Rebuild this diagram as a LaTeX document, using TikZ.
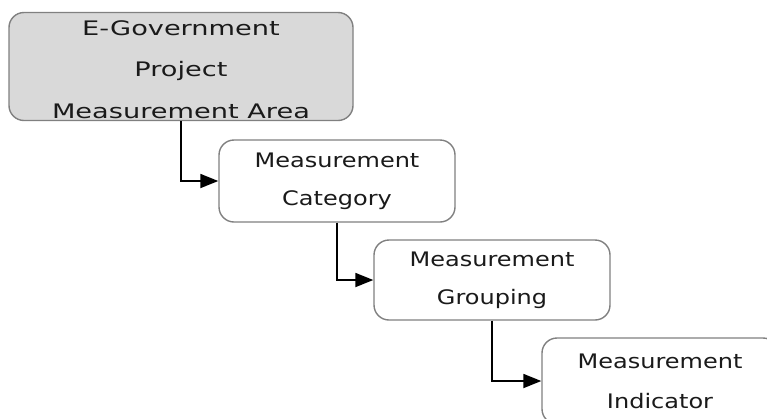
\documentclass[tikz,border=0pt]{standalone}
\usepackage{fontspec}
\setmainfont{DejaVu Sans}
\newfontfamily\boxfont[FakeStretch=1.2]{DejaVu Sans}
\newfontfamily\topfont[FakeStretch=1.36]{DejaVu Sans}
\usetikzlibrary{arrows.meta}
\definecolor{boxgray}{HTML}{D9D9D9}
\definecolor{edgegray}{HTML}{808080}
\definecolor{txtgray}{HTML}{1A1A1A}
\tikzset{
  block/.style={draw=edgegray, line width=1.4pt, rounded corners=15pt,
    fill=white, align=center, text=txtgray, inner sep=0pt,
    font=\boxfont\fontsize{20}{38}\selectfont},
  arr/.style={line width=1.8pt, -{Triangle[length=18pt, width=14pt]}}
}
\begin{document}
\begin{tikzpicture}[x=1pt, y=-1pt]
  \useasboundingbox (0,0) rectangle (767,418);

  % Boxes
  \node[block, fill=boxgray, minimum width=344pt, minimum height=108pt,
    font=\topfont\fontsize{20}{41.5}\selectfont]
    (area) at (181,66.5) {\rule{0pt}{21pt}E-Government\\Project\\Measurement Area};
  \node[block, minimum width=236pt, minimum height=82pt]
    (category) at (337,181) {Measurement\\Category};
  \node[block, minimum width=236pt, minimum height=80pt]
    (grouping) at (492,280) {Measurement\\Grouping};
  \node[block, minimum width=236pt, minimum height=86pt, font=\boxfont\fontsize{20}{40}\selectfont]
    (indicator) at (660,381) {Measurement\\Indicator};

  % Connectors
  \draw[arr] (area.south) |- (category.west);
  \draw[arr] (category.south) |- (grouping.west);
  \draw[arr] (grouping.south) |- (indicator.west);
\end{tikzpicture}
\end{document}
